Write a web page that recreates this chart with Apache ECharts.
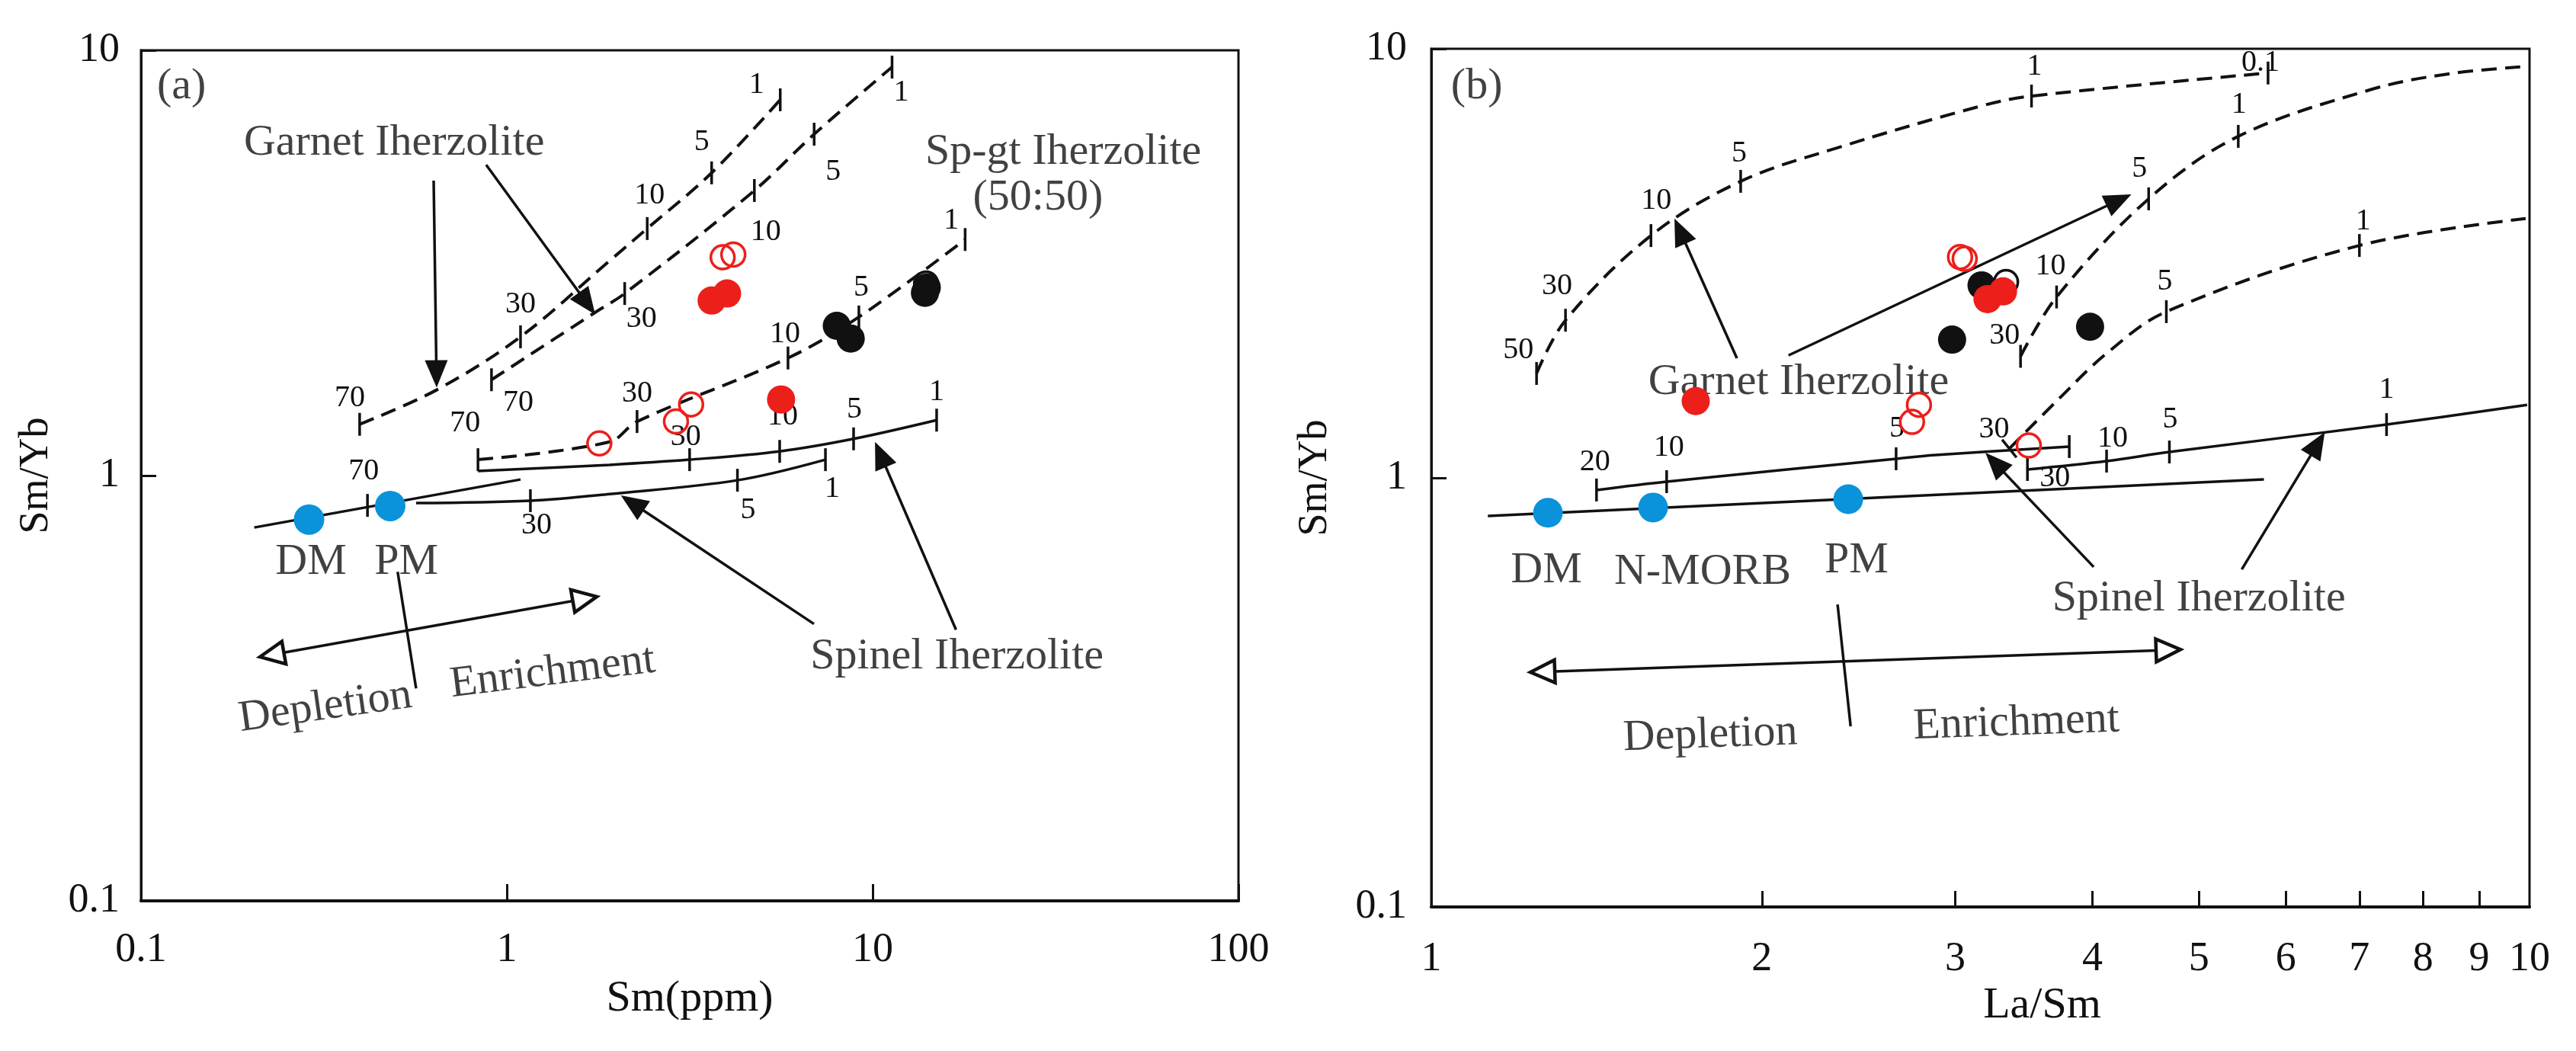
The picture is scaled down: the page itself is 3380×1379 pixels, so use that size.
<!DOCTYPE html>
<html><head><meta charset="utf-8">
<script src="https://cdn.jsdelivr.net/npm/echarts@6/dist/echarts.min.js"></script>
<style>html,body{margin:0;padding:0;background:#fff}#c{width:3380px;height:1379px}</style>
</head><body><div id="c"></div>
<script>
// ================= DATA =================
// ---- Panel (a): Sm (ppm) vs Sm/Yb ----
const aGarnet1X = [0.396, 0.643, 1.09, 1.91, 2.42, 3.63, 5.59];
const aGarnet1Y = [1.32, 1.59, 2.12, 3.20, 3.81, 5.15, 7.65];
const aGarnet1TickX = [0.396, 1.09, 2.42, 3.63, 5.59];
const aGarnet1TickY = [1.32, 2.12, 3.81, 5.15, 7.65];
const aGarnet1TickLbl = ['70', '30', '10', '5', '1'];

const aGarnet2X = [0.908, 1.745, 2.10, 4.75, 6.92, 11.3];
const aGarnet2Y = [1.68, 2.42, 2.68, 4.68, 6.35, 9.13];
const aGarnet2TickX = [0.908, 2.10, 4.75, 6.92, 11.3];
const aGarnet2TickY = [1.68, 2.68, 4.68, 6.35, 9.13];
const aGarnet2TickLbl = ['70', '30', '10', '5', '1'];

const aSpGtX = [0.834, 1.91, 2.27, 5.87, 9.17, 17.9];
const aSpGtY = [1.09, 1.20, 1.34, 1.89, 2.36, 3.59];
const aSpGtTickX = [0.834, 2.27, 5.87, 9.17, 17.9];
const aSpGtTickY = [1.09, 1.34, 1.89, 2.36, 3.59];
const aSpGtTickLbl = ['70', '30', '10', '5', '1'];

const aSpinel1X = [0.834, 1.91, 3.16, 5.57, 8.87, 14.96];
const aSpinel1Y = [1.025, 1.06, 1.09, 1.14, 1.22, 1.35];
const aSpinel1TickX = [3.16, 5.57, 8.87, 14.96];
const aSpinel1TickY = [1.09, 1.14, 1.22, 1.35];
const aSpinel1TickLbl = ['30', '10', '5', '1'];

const aSpinel2X = [0.565, 1.16, 1.91, 4.27, 7.43];
const aSpinel2Y = [0.862, 0.873, 0.905, 0.975, 1.09];
const aSpinel2TickX = [1.16, 4.27, 7.43];
const aSpinel2TickY = [0.873, 0.975, 1.09];
const aSpinel2TickLbl = ['30', '5', '1'];

const aMantleLineX = [0.204, 1.09];
const aMantleLineY = [0.755, 0.979];
const aMantleTickX = [0.416];
const aMantleTickY = [0.851];
const aMantleTickLbl = ['70'];

const aRefX = [0.288, 0.480];           // DM, PM
const aRefY = [0.788, 0.848];
const aRedFilledX = [3.63, 4.00, 5.62];
const aRedFilledY = [2.58, 2.68, 1.51];
const aRedOpenX = [3.89, 4.16, 3.19, 2.90, 1.79];
const aRedOpenY = [3.26, 3.31, 1.47, 1.34, 1.19];
const aBlackFilledX = [7.98, 8.71, 14.06, 13.9];
const aBlackFilledY = [2.25, 2.10, 2.77, 2.69];
const aBlackOpenX = [14.0];
const aBlackOpenY = [2.83];

// arrows: [x1, y1, x2, y2, kind]  kind 0 = plain line, 1 = filled head, 2 = open heads both ends
const aArrows = [
  [0.631, 4.94, 0.643, 1.61, 1],
  [0.878, 5.38, 1.745, 2.39, 1],
  [6.91, 0.448, 2.05, 0.898, 1],
  [16.9, 0.434, 10.15, 1.20, 1],
  [0.2113, 0.3746, 1.762, 0.519, 2],
  [0.503, 0.594, 0.565, 0.316, 0]
];

const aTexts = ['(a)', 'Garnet Iherzolite', 'Sp-gt Iherzolite', '(50:50)', 'Spinel Iherzolite', 'DM', 'PM', 'Depletion', 'Enrichment'];
const aTextX = [0.129, 0.492, 33.2, 28.3, 17.0, 0.2915, 0.531, 0.319, 1.334];
const aTextY = [8.21, 6.05, 5.75, 4.49, 0.3746, 0.625, 0.625, 0.285, 0.344];

// ---- Panel (b): La/Sm vs Sm/Yb ----
const bGarnetX = [1.247, 1.325, 1.585, 1.913, 2.344, 3.17, 3.52, 5.78];
const bGarnetY = [1.751, 2.33, 3.67, 4.91, 5.88, 7.36, 7.76, 8.78];
const bGarnetTickX = [1.247, 1.325, 1.585, 1.913, 3.52, 5.78];
const bGarnetTickY = [1.751, 2.33, 3.67, 4.91, 7.76, 8.78];
const bGarnetTickLbl = ['50', '30', '10', '5', '1', '0.1'];

const bSpGtX = [3.44, 3.71, 4.50, 5.43, 7.19, 8.44, 9.97];
const bSpGtY = [1.92, 2.64, 4.47, 6.25, 8.05, 8.74, 9.10];
const bSpGtTickX = [3.44, 3.71, 4.50, 5.43];
const bSpGtTickY = [1.92, 2.64, 4.47, 6.25];
const bSpGtTickLbl = ['30', '10', '5', '1'];

const bMixX = [3.36, 3.72, 4.12, 4.67, 7.00, 9.92];
const bMixY = [1.17, 1.52, 1.95, 2.44, 3.48, 4.02];
const bMixTickX = [3.36, 4.67, 7.00];
const bMixTickY = [1.17, 2.44, 3.48];
const bMixTickLbl = ['30', '5', '1'];

const bSpinel1X = [1.414, 1.638, 2.65, 2.88, 3.81];
const bSpinel1Y = [0.937, 0.980, 1.108, 1.13, 1.183];
const bSpinel1TickX = [1.414, 1.638, 2.65, 3.81];
const bSpinel1TickY = [0.937, 0.980, 1.108, 1.183];
const bSpinel1TickLbl = ['20', '10', '5', ''];

const bSpinel2X = [3.49, 4.12, 4.70, 7.41, 9.95];
const bSpinel2Y = [1.046, 1.094, 1.149, 1.331, 1.48];
const bSpinel2TickX = [3.49, 4.12, 4.70, 7.41];
const bSpinel2TickY = [1.046, 1.094, 1.149, 1.331];
const bSpinel2TickLbl = ['30', '10', '5', '1'];

const bMantleLineX = [1.126, 5.73];
const bMantleLineY = [0.815, 0.992];

const bRefX = [1.277, 1.592, 2.397];    // DM, N-MORB, PM
const bRefY = [0.829, 0.853, 0.892];
const bRedFilledX = [1.741, 3.21, 3.316];
const bRedFilledY = [1.51, 2.61, 2.72];
const bRedOpenX = [3.03, 3.06, 2.78, 2.74, 3.50];
const bRedOpenY = [3.27, 3.24, 1.48, 1.35, 1.19];
const bBlackFilledX = [3.17, 2.98, 3.98];
const bBlackFilledY = [2.81, 2.10, 2.25];
const bBlackOpenX = [3.337];
const bBlackOpenY = [2.86];

const bArrows = [
  [1.898, 1.90, 1.665, 4.02, 1],
  [2.115, 1.93, 4.34, 4.58, 1],
  [4.01, 0.620, 3.196, 1.144, 1],
  [5.47, 0.612, 6.51, 1.278, 1],
  [1.231, 0.3524, 4.81, 0.398, 2],
  [2.344, 0.507, 2.409, 0.2636, 0]
];

const bTexts = ['(b)', 'Garnet Iherzolite', 'Spinel Iherzolite', 'DM', 'N-MORB', 'PM', 'Depletion', 'Enrichment'];
const bTextX = [1.10, 2.16, 5.00, 1.273, 1.766, 2.439, 1.795, 3.41];
const bTextY = [8.15, 1.67, 0.522, 0.607, 0.603, 0.640, 0.251, 0.268];

const bXTickValues = [2, 3, 4, 5, 6, 7, 8, 9];
const bXLabelValues = [1, 2, 3, 4, 5, 6, 7, 8, 9, 10];

// ================= STYLE =================
const FONT = "'Liberation Serif','DejaVu Serif',serif";
const INK = '#111111';
const RED = '#ec1f1a';
const BLUE = '#0a93da';

const tickOffsets = {
  aG1: [[-13, -34], [0, -42], [3, -43], [-13, -40], [-31, -19]],
  aG2: [[35, 30], [22, 33], [15, 54], [25, 49], [12, 33]],
  aSG: [[-17, -48], [0, -37], [-4, -31], [3, -38], [-18, -25]],
  aS1: [[-5, -30], [4, -46], [1, -38], [0, -37]],
  aS2: [[8, 33], [14, 39], [9, 38]],
  aM:  [[-5, -45]],
  bG:  [[-24, -31], [-11, -45], [7, -46], [-2, -36], [4, -39], [-10, -13]],
  bSG: [[-21, -27], [-8, -40], [-12, -39], [1, -41]],
  bMx: [[-20, -25], [-2, -39], [5, -32]],
  bS1: [[-2, -36], [3, -44], [1, -39], [0, 0]],
  bS2: [[36, 11], [8, -30], [1, -43], [0, -46]]
};
const tickRot = { bMx: [39, 0, 0] };
const textRot = { 'Depletion_a': 8, 'Enrichment_a': 7, 'Depletion_b': 2, 'Enrichment_b': 2 };

// ================= BUILDERS =================
function pairs(xs, ys) { return xs.map((x, i) => [x, ys[i]]); }

function curve(xs, ys, dashed, gi) {
  return {
    type: 'line', xAxisIndex: gi, yAxisIndex: gi, data: pairs(xs, ys),
    symbol: 'none', showSymbol: false, smooth: 0.35, silent: true, z: 2,
    lineStyle: { color: INK, width: dashed ? 4 : 3.5, type: dashed ? [20, 11] : 'solid', opacity: 1 }
  };
}

function ticks(xs, ys, lbls, key, gi) {
  const offs = tickOffsets[key], rots = tickRot[key];
  return {
    type: 'scatter', xAxisIndex: gi, yAxisIndex: gi, silent: true, z: 4,
    symbol: 'rect', symbolSize: [3.5, 30], itemStyle: { color: INK, opacity: 1 },
    label: { show: true, position: 'inside', fontFamily: FONT, fontSize: 40, color: INK },
    data: xs.map((x, i) => ({
      value: [x, ys[i]],
      symbolRotate: rots ? rots[i] : 0,
      label: { show: lbls[i] !== '', formatter: lbls[i], offset: offs[i] }
    }))
  };
}

function points(xs, ys, gi, fill, border, size, z) {
  return {
    type: 'scatter', xAxisIndex: gi, yAxisIndex: gi, silent: true, z: z,
    symbol: 'circle', symbolSize: size,
    itemStyle: border ? { color: 'rgba(0,0,0,0)', borderColor: border, borderWidth: 3.5, opacity: 1 } : { color: fill, opacity: 1 },
    data: pairs(xs, ys)
  };
}

function arrowRender(params, api) {
  const p1 = api.coord([api.value(0), api.value(1)]);
  const p2 = api.coord([api.value(2), api.value(3)]);
  const kind = api.value(4);
  const dx = p2[0] - p1[0], dy = p2[1] - p1[1], len = Math.hypot(dx, dy);
  const ux = dx / len, uy = dy / len, nx = -uy, ny = ux;
  const ch = [];
  const tri = (tip, sx, sy, L, W) => {
    const bx = tip[0] - sx * L, by = tip[1] - sy * L;
    return { base: [bx, by], pts: [[tip[0], tip[1]], [bx + nx * W, by + ny * W], [bx - nx * W, by - ny * W]] };
  };
  if (kind === 0) {
    ch.push({ type: 'line', shape: { x1: p1[0], y1: p1[1], x2: p2[0], y2: p2[1] }, style: { stroke: INK, lineWidth: 3.5 } });
  } else if (kind === 1) {
    const h = tri(p2, ux, uy, 36, 15);
    ch.push({ type: 'line', shape: { x1: p1[0], y1: p1[1], x2: h.base[0] + ux * 4, y2: h.base[1] + uy * 4 }, style: { stroke: INK, lineWidth: 3.5 } });
    ch.push({ type: 'polygon', shape: { points: h.pts }, style: { fill: INK } });
  } else {
    const h2 = tri(p2, ux, uy, 32, 15);
    const h1 = tri(p1, -ux, -uy, 32, 15);
    ch.push({ type: 'line', shape: { x1: h1.base[0], y1: h1.base[1], x2: h2.base[0], y2: h2.base[1] }, style: { stroke: INK, lineWidth: 3.5 } });
    ch.push({ type: 'polygon', shape: { points: h1.pts }, style: { fill: '#fff', stroke: INK, lineWidth: 4.5, lineJoin: 'miter' } });
    ch.push({ type: 'polygon', shape: { points: h2.pts }, style: { fill: '#fff', stroke: INK, lineWidth: 4.5, lineJoin: 'miter' } });
  }
  return { type: 'group', children: ch };
}

function arrows(data, gi) {
  return {
    type: 'custom', xAxisIndex: gi, yAxisIndex: gi, silent: true, z: 3,
    encode: { x: [0, 2], y: [1, 3] }, data: data, renderItem: arrowRender
  };
}

function texts(names, xs, ys, gi, suffix) {
  return {
    type: 'scatter', xAxisIndex: gi, yAxisIndex: gi, silent: true, z: 6,
    symbolSize: 1, itemStyle: { color: 'rgba(0,0,0,0)' },
    label: { show: true, position: 'inside', fontFamily: FONT, fontSize: 58, color: INK, formatter: '{b}' },
    data: names.map((n, i) => ({
      name: n, value: [xs[i], ys[i]],
      label: { rotate: textRot[n + '_' + suffix] || 0 }
    }))
  };
}

function logX(gi, min, max, extra) {
  return Object.assign({
    type: 'log', logBase: 10, gridIndex: gi, min: min, max: max,
    nameLocation: 'middle',
    nameTextStyle: { fontFamily: FONT, fontSize: 58, color: INK },
    axisLine: { show: true, lineStyle: { color: INK, width: 4 } },
    axisTick: { show: true, inside: true, length: 22, lineStyle: { color: INK, width: 3 } },
    axisLabel: { fontFamily: FONT, fontSize: 54, color: INK, margin: 38 },
    splitLine: { show: false }, minorTick: { show: false }
  }, extra);
}
function logY(gi, extra) {
  return Object.assign({
    type: 'log', logBase: 10, gridIndex: gi, min: 0.1, max: 10,
    name: 'Sm/Yb', nameLocation: 'middle',
    nameTextStyle: { fontFamily: FONT, fontSize: 54, color: INK },
    axisLine: { show: true, lineStyle: { color: INK, width: 3 } },
    axisTick: { show: true, inside: true, length: 20, lineStyle: { color: INK, width: 3 } },
    axisLabel: { fontFamily: FONT, fontSize: 54, color: INK, margin: 28 },
    splitLine: { show: false }
  }, extra);
}

const option = {
  animation: false,
  backgroundColor: '#fff',
  grid: [
    { left: 185, top: 66, width: 1440, height: 1116, show: true, borderColor: INK, borderWidth: 3, backgroundColor: 'transparent' },
    { left: 1878, top: 64, width: 1441, height: 1126, show: true, borderColor: INK, borderWidth: 3, backgroundColor: 'transparent' }
  ],
  xAxis: [
    logX(0, 0.1, 100, { name: 'Sm(ppm)', nameGap: 100 }),
    logX(1, 1, 10, {
      name: 'La/Sm', nameGap: 95,
      nameTextStyle: { fontFamily: FONT, fontSize: 58, color: INK, padding: [0, 0, 0, 162] },
      axisTick: { show: true, inside: true, length: 21, lineStyle: { color: INK, width: 3 }, customValues: bXTickValues },
      axisLabel: { fontFamily: FONT, fontSize: 54, color: INK, margin: 42, customValues: bXLabelValues }
    })
  ],
  yAxis: [
    logY(0, { nameGap: 110 }),
    logY(1, { nameGap: 125, axisLabel: { fontFamily: FONT, fontSize: 54, color: INK, margin: 32 } })
  ],
  series: [
    // panel (a)
    curve(aGarnet1X, aGarnet1Y, true, 0),
    curve(aGarnet2X, aGarnet2Y, true, 0),
    curve(aSpGtX, aSpGtY, true, 0),
    curve(aSpinel1X, aSpinel1Y, false, 0),
    curve(aSpinel2X, aSpinel2Y, false, 0),
    curve(aMantleLineX, aMantleLineY, false, 0),
    ticks(aGarnet1TickX, aGarnet1TickY, aGarnet1TickLbl, 'aG1', 0),
    ticks(aGarnet2TickX, aGarnet2TickY, aGarnet2TickLbl, 'aG2', 0),
    ticks(aSpGtTickX, aSpGtTickY, aSpGtTickLbl, 'aSG', 0),
    ticks(aSpinel1TickX, aSpinel1TickY, aSpinel1TickLbl, 'aS1', 0),
    ticks(aSpinel2TickX, aSpinel2TickY, aSpinel2TickLbl, 'aS2', 0),
    ticks(aMantleTickX, aMantleTickY, aMantleTickLbl, 'aM', 0),
    arrows(aArrows, 0),
    texts(aTexts, aTextX, aTextY, 0, 'a'),
    points(aRefX, aRefY, 0, BLUE, null, 40, 7),
    points(aBlackFilledX, aBlackFilledY, 0, INK, null, 37, 7),
    points(aBlackOpenX, aBlackOpenY, 0, null, INK, 31, 7),
    points(aRedOpenX, aRedOpenY, 0, null, RED, 31, 8),
    points(aRedFilledX, aRedFilledY, 0, RED, null, 37, 8),
    // panel (b)
    curve(bGarnetX, bGarnetY, true, 1),
    curve(bSpGtX, bSpGtY, true, 1),
    curve(bMixX, bMixY, true, 1),
    curve(bSpinel1X, bSpinel1Y, false, 1),
    curve(bSpinel2X, bSpinel2Y, false, 1),
    curve(bMantleLineX, bMantleLineY, false, 1),
    ticks(bGarnetTickX, bGarnetTickY, bGarnetTickLbl, 'bG', 1),
    ticks(bSpGtTickX, bSpGtTickY, bSpGtTickLbl, 'bSG', 1),
    ticks(bMixTickX, bMixTickY, bMixTickLbl, 'bMx', 1),
    ticks(bSpinel1TickX, bSpinel1TickY, bSpinel1TickLbl, 'bS1', 1),
    ticks(bSpinel2TickX, bSpinel2TickY, bSpinel2TickLbl, 'bS2', 1),
    arrows(bArrows, 1),
    texts(bTexts, bTextX, bTextY, 1, 'b'),
    points(bRefX, bRefY, 1, BLUE, null, 39, 7),
    points(bBlackFilledX, bBlackFilledY, 1, INK, null, 37, 7),
    points(bBlackOpenX, bBlackOpenY, 1, null, INK, 31, 7),
    points(bRedOpenX, bRedOpenY, 1, null, RED, 31, 8),
    points(bRedFilledX, bRedFilledY, 1, RED, null, 37, 8)
  ]
};

const chart = echarts.init(document.getElementById('c'), null, { renderer: 'canvas' });
chart.setOption(option);
</script>
</body></html>
